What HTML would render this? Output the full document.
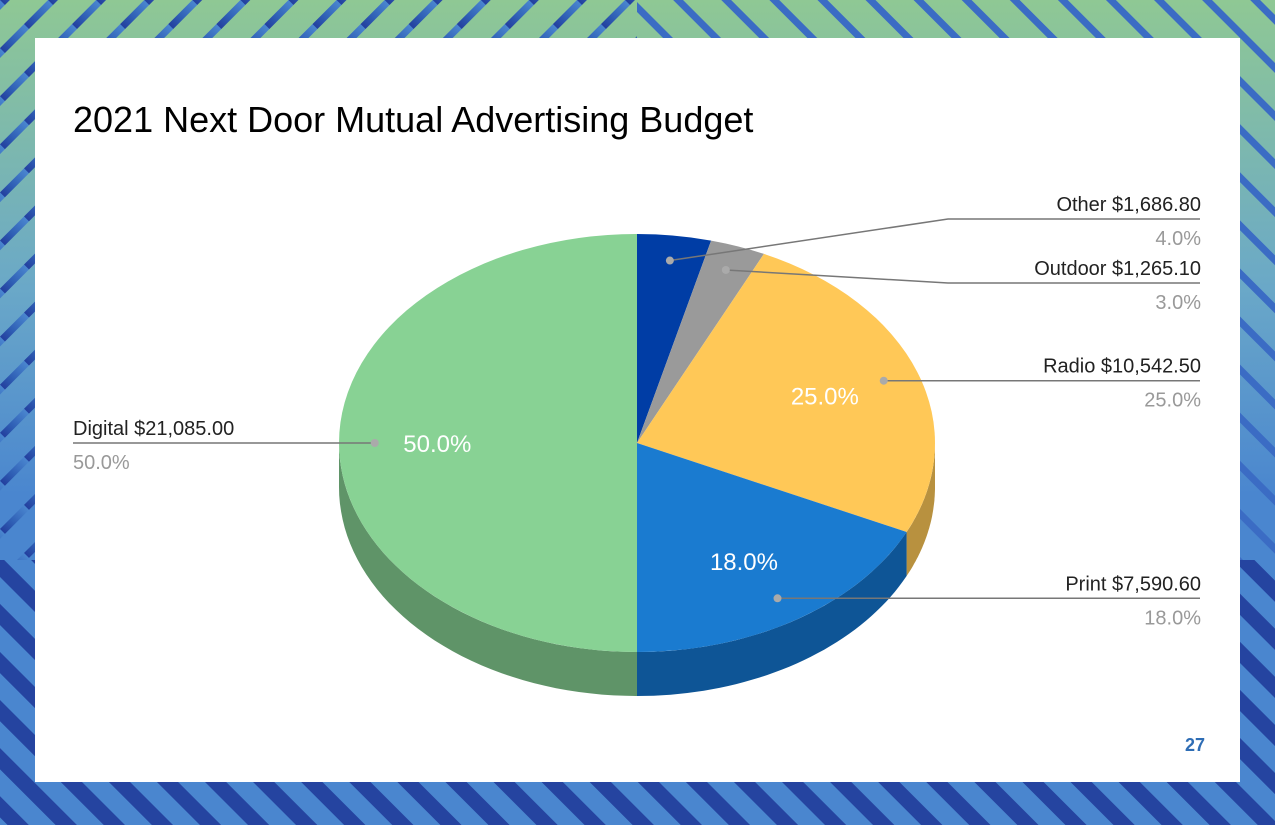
<!DOCTYPE html>
<html><head><meta charset="utf-8">
<style>
html,body{margin:0;padding:0;}
body{width:1275px;height:825px;overflow:hidden;position:relative;font-family:"Liberation Sans",Arial,sans-serif;}
#bg{position:absolute;left:0;top:0;width:1275px;height:825px;}
#panel{position:absolute;left:35px;top:38px;width:1205px;height:744px;background:#fff;}
</style></head>
<body>
<svg id="bg" width="1275" height="825">
<defs>
<linearGradient id="g" x1="0" y1="0" x2="0" y2="1">
<stop offset="0" stop-color="#8fc894"/><stop offset="0.35" stop-color="#6aa8c8"/><stop offset="0.6" stop-color="#4a86cf"/><stop offset="1" stop-color="#4a86cf"/>
</linearGradient>
<linearGradient id="s" x1="0" y1="0" x2="0" y2="1">
<stop offset="0" stop-color="#4a86cf"/><stop offset="0.6" stop-color="#2f5fb5"/><stop offset="1" stop-color="#233f9e"/>
</linearGradient>
<pattern id="p1" width="34" height="34" patternUnits="userSpaceOnUse" patternTransform="rotate(45)">
<rect x="0" y="0" width="7" height="34" fill="url(#s)"/></pattern>
<pattern id="p2" width="34" height="34" patternUnits="userSpaceOnUse" patternTransform="rotate(-45)">
<rect x="0" y="0" width="7" height="34" fill="#3b6cc4"/></pattern>
<pattern id="p3" width="34" height="34" patternUnits="userSpaceOnUse" patternTransform="rotate(-45)">
<rect x="0" y="0" width="15" height="34" fill="#2544a0"/></pattern>
</defs>
<rect width="1275" height="825" fill="url(#g)"/>
<rect x="0" y="0" width="637" height="560" fill="url(#p1)"/>
<rect x="637" y="0" width="638" height="560" fill="url(#p2)"/>
<rect x="0" y="560" width="1275" height="265" fill="url(#p3)"/>
</svg>
<div id="panel"></div>
<svg id="chart" style="position:absolute;left:0;top:0" width="1275" height="825">
<text x="73" y="132" font-size="36" fill="#000">2021 Next Door Mutual Advertising Budget</text>
<g id="sides"></g><g id="tops"></g><g id="labels"></g>
<text x="1205" y="751" font-size="18" font-weight="bold" fill="#2e6db5" text-anchor="end">27</text>
</svg>
<script>
const categories=["Other","Outdoor","Radio","Print","Digital"];
const values=[1686.80,1265.10,10542.50,7590.60,21085.00];
const amountLabels=["$1,686.80","$1,265.10","$10,542.50","$7,590.60","$21,085.00"];
const colors=["#003da5","#9a9a9a","#ffc857","#1a7bd0","#88d294"];
const sideColors=["#002a70","#6b6b6b","#b8913f","#0e5596","#5f9468"];
const cx=637,cy=443,rx=298,ry=209,depth=44;
const NS="http://www.w3.org/2000/svg";
const total=values.reduce((a,b)=>a+b,0);
function pt(t,dy){return [cx+rx*Math.sin(t),cy-ry*Math.cos(t)+(dy||0)];}
function mk(tag,attrs,parent){const e=document.createElementNS(NS,tag);for(const k in attrs)e.setAttribute(k,attrs[k]);parent.appendChild(e);return e;}
const sides=document.getElementById('sides'),tops=document.getElementById('tops'),labels=document.getElementById('labels');
// explicit label layout for each category (positions of text/leader)
const layout=[
 {side:"r",ty:211,elbow:[948,219]},
 {side:"r",ty:273,elbow:[948,283]},
 {side:"r",ty:364,elbow:null},
 {side:"r",ty:600,elbow:null},
 {side:"l",ty:432,elbow:null}
];
let acc=0;
values.forEach((v,i)=>{
 const a0=acc/total*2*Math.PI; acc+=v; const a1=acc/total*2*Math.PI;
 const frac=v/total;
 // side wall within visible range [PI/2, 3PI/2]
 const s0=Math.max(a0,Math.PI/2),s1=Math.min(a1,1.5*Math.PI);
 if(s1>s0){
  let d="";const N=40;
  for(let k=0;k<=N;k++){const p=pt(s0+(s1-s0)*k/N);d+=(k?"L":"M")+p[0].toFixed(1)+","+p[1].toFixed(1);}
  for(let k=N;k>=0;k--){const p=pt(s0+(s1-s0)*k/N,depth);d+="L"+p[0].toFixed(1)+","+p[1].toFixed(1);}
  const sp=mk('path',{d:d+"Z",fill:sideColors[i]},sides);
  
  
 }
 const p0=pt(a0),p1=pt(a1);
 const large=(a1-a0)>Math.PI?1:0;
 const tp=mk('path',{d:`M${cx},${cy}L${p0[0]},${p0[1]}A${rx},${ry} 0 ${large} 1 ${p1[0]},${p1[1]}Z`,fill:colors[i]},tops);
 
 
 const mid=(a0+a1)/2;
 if(frac>0.1){
  const ip=[cx+rx*0.67*Math.sin(mid),cy-ry*0.67*Math.cos(mid)];
  const t=mk('text',{x:ip[0],y:ip[1]+9,'font-size':24,fill:'#fff','text-anchor':'middle'},labels);
  t.textContent=(frac*100).toFixed(1)+"%";
  
  
 }
 // leader
 const L=layout[i];
 const dp=[cx+rx*0.88*Math.sin(mid),cy-ry*0.88*Math.cos(mid)];
 const yLine=L.ty+8;
 let d;
 if(L.side==="r"){
  d=L.elbow?`M${dp[0]},${dp[1]}L${L.elbow[0]},${L.elbow[1]}L1200,${L.elbow[1]}`:`M${dp[0]},${dp[1]}L1200,${dp[1]}`;
 } else d=`M${dp[0]},${dp[1]}L73,${dp[1]}`;
 const ln=mk('path',{d:d,stroke:'#777',fill:'none','stroke-width':1.5},labels);
 
 
 const dot=mk('circle',{cx:dp[0],cy:dp[1],r:4,fill:'#aaa'},labels);
 
 
 const baseY=L.elbow?L.elbow[1]:dp[1];
 const x=L.side==="r"?1201:73, anc=L.side==="r"?"end":"start";
 const t1=mk('text',{x:x,y:baseY-8,'font-size':20,fill:'#222','text-anchor':anc},labels);
 t1.textContent=categories[i]+" "+amountLabels[i];
 
 
 const t2=mk('text',{x:x,y:baseY+26,'font-size':20,fill:'#999','text-anchor':anc},labels);
 t2.textContent=(frac*100).toFixed(1)+"%";
 
 
});
</script>
</body></html>
